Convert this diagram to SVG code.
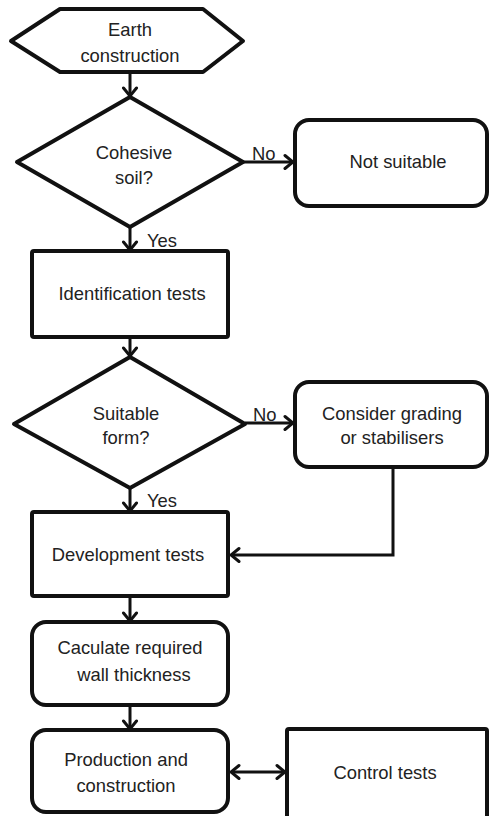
<svg xmlns="http://www.w3.org/2000/svg" width="489" height="816" viewBox="0 0 489 816">
<defs>
<style>
.n{fill:#fff;stroke:#111;stroke-width:4;stroke-linejoin:round}
.t{font-family:"Liberation Sans",Arial,sans-serif;font-size:18.4px;fill:#222;text-anchor:middle}
.l{font-family:"Liberation Sans",Arial,sans-serif;font-size:18.4px;fill:#222}
.c{fill:none;stroke:#111;stroke-width:3}
</style>
<marker id="ah" markerUnits="userSpaceOnUse" viewBox="-11 -9 13 18" refX="0" refY="0" markerWidth="13" markerHeight="18" orient="auto-start-reverse">
<path d="M-8,-6.5 L0,0 L-8,6.5" fill="none" stroke="#111" stroke-width="3" stroke-linecap="round" stroke-linejoin="miter"/>
</marker>
</defs>
<rect width="489" height="816" fill="#fff"/>
<g id="connectors">
<line class="c" x1="130" y1="72" x2="130" y2="96" marker-end="url(#ah)"/>
<line class="c" x1="130" y1="227" x2="130" y2="250" marker-end="url(#ah)"/>
<line class="c" x1="130" y1="337" x2="130" y2="356" marker-end="url(#ah)"/>
<line class="c" x1="130" y1="488" x2="130" y2="511" marker-end="url(#ah)"/>
<line class="c" x1="130" y1="596" x2="130" y2="621" marker-end="url(#ah)"/>
<line class="c" x1="130" y1="705" x2="130" y2="729" marker-end="url(#ah)"/>
<line class="c" x1="243" y1="162" x2="293" y2="162" marker-end="url(#ah)"/>
<line class="c" x1="245" y1="423" x2="293" y2="423" marker-end="url(#ah)"/>
<polyline class="c" points="393,467 393,555 231,555" marker-end="url(#ah)"/>
<line class="c" x1="231" y1="772" x2="285" y2="772" marker-start="url(#ah)" marker-end="url(#ah)"/>
<text class="l" x="252" y="160">No</text>
<text class="l" x="147" y="247">Yes</text>
<text class="l" x="253" y="421">No</text>
<text class="l" x="147" y="507">Yes</text>
</g>
<g id="earth">
<polygon class="n" points="11,41 60,9 203,9 243,41 203,72 60,72"/>
<text class="t" x="130" y="36">Earth</text>
<text class="t" x="130" y="62">construction</text>
</g>
<g id="cohesive">
<polygon class="n" points="130,97 243,162 130,227 17,162"/>
<text class="t" x="134" y="159">Cohesive</text>
<text class="t" x="134" y="184">soil?</text>
</g>
<g id="notsuitable">
<rect class="n" x="295" y="120" width="192" height="86" rx="14"/>
<text class="t" x="398" y="168">Not suitable</text>
</g>
<g id="identification">
<rect class="n" x="32" y="251" width="196" height="86" rx="2"/>
<text class="t" x="132" y="300">Identification tests</text>
</g>
<g id="suitable">
<polygon class="n" points="130,357 245,424 130,488 14,424"/>
<text class="t" x="126" y="420">Suitable</text>
<text class="t" x="126" y="444">form?</text>
</g>
<g id="consider">
<rect class="n" x="295" y="382" width="192" height="85" rx="14"/>
<text class="t" x="392" y="420">Consider grading</text>
<text class="t" x="392" y="444">or stabilisers</text>
</g>
<g id="development">
<rect class="n" x="32" y="512" width="196" height="84" rx="2"/>
<text class="t" x="128" y="561">Development tests</text>
</g>
<g id="calculate">
<rect class="n" x="32" y="622" width="196" height="83" rx="14"/>
<text class="t" x="130" y="654">Caculate required</text>
<text class="t" x="134" y="681">wall thickness</text>
</g>
<g id="production">
<rect class="n" x="32" y="730" width="196" height="82" rx="14"/>
<text class="t" x="126" y="766">Production and</text>
<text class="t" x="126" y="792">construction</text>
</g>
<g id="control">
<rect class="n" x="287" y="729" width="200" height="100" rx="2"/>
<text class="t" x="385" y="779">Control tests</text>
</g>
</svg>
